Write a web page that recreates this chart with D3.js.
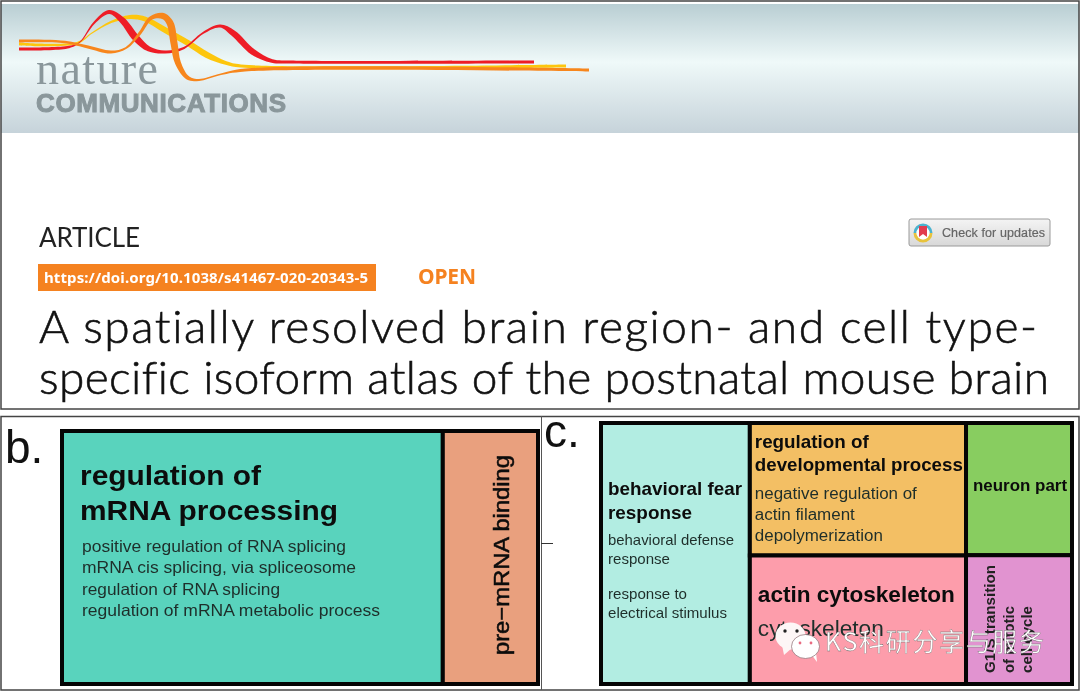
<!DOCTYPE html>
<html>
<head>
<meta charset="utf-8">
<script src="https://d3js.org/d3.v7.min.js"></script>
<style>
  html, body { margin: 0; padding: 0; background: #fff; }
  svg { display: block; filter: blur(0.4px); }
</style>
</head>
<body>
<div id="chart"></div>
<script>
// Treemap b: GO terms and their share of the box
const termsB = ["regulation of mRNA processing", "pre-mRNA binding"];
const valuesB = [80, 20];

// Treemap c: columns of GO terms
const termsC = [
  ["behavioral fear response"],
  ["regulation of developmental process", "actin cytoskeleton"],
  ["neuron part", "G1/S transition of mitotic cell cycle"]
];
const valuesC = [[31.6], [23.3, 22.6], [11.4, 11.1]];

const coloursB = ["#59d3bd", "#e9a07e"];
const coloursC = [["#b2ede2"], ["#f3bf64", "#fd9dab"], ["#88cd60", "#e193d0"]];

// Logo ribbons: x, y, thickness
const ribbonRed = [[19,49,3],[69,47,2.5],[80,42,1],[94,23,2],[109,12,4],[122,20,6],[136,38,7],[149,49,5],[165,52,3],[184,48,2],[203,33,2],[220,26,3],[233,33,6],[253,52,6],[272,61,3.5],[291,62,3],[534,62,3]];
const ribbonYellow = [[19,44,3],[77,43,2],[92,33,1],[111,22,2],[130,17,4],[145,19,5],[165,30,6],[188,43,6],[207,55,6],[226,63,3.5],[241,66,3],[566,66,3]];
const ribbonOrange = [[19,41,3],[65,42,2.5],[88,47,3],[111,52,3],[126,48,2],[140,33,3],[151,18,4],[163,16,6],[170,23,7],[174,43,7],[178,63,6],[188,78,4],[199,80,2],[218,75,1.5],[245,70,3],[589,70,3]];

const width = 1080;
const height = 691;
const sans = "'Liberation Sans', Arial, sans-serif";
const titleFont = "Lato, 'Noto Sans', sans-serif";

const svg = d3.select("#chart").append("svg")
  .attr("width", width)
  .attr("height", height)
  .attr("viewBox", [0, 0, width, height]);

const defs = svg.append("defs");

const headerGrad = defs.append("linearGradient")
  .attr("id", "header-grad")
  .attr("x1", 0).attr("y1", 0).attr("x2", 0).attr("y2", 1);
headerGrad.selectAll("stop")
  .data([[0, "#b9ced3"], [0.45, "#eff9f9"], [1, "#c6d3da"]])
  .join("stop")
  .attr("offset", d => d[0])
  .attr("stop-color", d => d[1]);

const badgeGrad = defs.append("linearGradient")
  .attr("id", "badge-grad")
  .attr("x1", 0).attr("y1", 0).attr("x2", 0).attr("y2", 1);
badgeGrad.selectAll("stop")
  .data([[0, "#f4f4f4"], [1, "#d8d8d8"]])
  .join("stop")
  .attr("offset", d => d[0])
  .attr("stop-color", d => d[1]);

const softBlur = defs.append("filter").attr("id", "soft");
softBlur.append("feGaussianBlur").attr("stdDeviation", 0.5);

// Article header
svg.append("rect")
  .attr("x", 1).attr("y", 4).attr("width", width - 2).attr("height", 129)
  .attr("fill", "url(#header-grad)");

// Ribbons get offset by half their thickness on each side
const edge = d3.line().curve(d3.curveCatmullRom.alpha(0.5));
function ribbonPath(pts) {
  const left = [], right = [];
  pts.forEach((p, i) => {
    const a = pts[Math.max(i - 1, 0)];
    const b = pts[Math.min(i + 1, pts.length - 1)];
    const len = Math.hypot(b[0] - a[0], b[1] - a[1]);
    const nx = -(b[1] - a[1]) / len, ny = (b[0] - a[0]) / len;
    left.push([p[0] + nx * p[2] / 2, p[1] + ny * p[2] / 2]);
    right.unshift([p[0] - nx * p[2] / 2, p[1] - ny * p[2] / 2]);
  });
  return edge(left) + "L" + edge(right).slice(1) + "Z";
}

const logo = svg.append("g").attr("filter", "url(#soft)");
logo.selectAll("path")
  .data([[ribbonYellow, "#fdc60f"], [ribbonRed, "#ee1c25"], [ribbonOrange, "#f7861e"]])
  .join("path")
  .attr("d", d => ribbonPath(d[0]))
  .attr("fill", d => d[1]);

svg.append("text")
  .attr("x", 36).attr("y", 84)
  .attr("font-family", "'Liberation Serif', serif")
  .attr("font-size", 46)
  .attr("textLength", 122)
  .attr("fill", "#8a979b")
  .text("nature");
svg.append("text")
  .attr("x", 36).attr("y", 112)
  .attr("font-family", sans)
  .attr("font-weight", "bold")
  .attr("font-size", 26)
  .attr("textLength", 250)
  .attr("stroke", "#8a979b")
  .attr("stroke-width", 1)
  .attr("fill", "#8a979b")
  .text("COMMUNICATIONS");

svg.append("text")
  .attr("x", 39).attr("y", 247)
  .attr("font-family", titleFont)
  .attr("font-size", 26)
  .attr("textLength", 101)
  .attr("fill", "#222")
  .text("ARTICLE");

svg.append("rect")
  .attr("x", 38).attr("y", 264).attr("width", 338).attr("height", 27)
  .attr("fill", "#f58220");
svg.append("text")
  .attr("x", 44).attr("y", 283)
  .attr("font-family", "'Noto Sans', sans-serif")
  .attr("font-weight", "bold")
  .attr("font-size", 15)
  .attr("textLength", 324)
  .attr("fill", "#fff")
  .text("https://doi.org/10.1038/s41467-020-20343-5");
svg.append("text")
  .attr("x", 418).attr("y", 284)
  .attr("font-family", "'Noto Sans', sans-serif")
  .attr("font-weight", "bold")
  .attr("font-size", 21)
  .attr("textLength", 58)
  .attr("fill", "#f58220")
  .text("OPEN");

svg.selectAll("text.headline")
  .data([
    ["A spatially resolved brain region- and cell type-", 343, 998],
    ["specific isoform atlas of the postnatal mouse brain", 394, 1010]
  ])
  .join("text")
  .attr("class", "headline")
  .attr("x", 39)
  .attr("y", d => d[1])
  .attr("font-family", titleFont)
  .attr("font-size", 46)
  .attr("font-weight", 300)
  .attr("textLength", d => d[2])
  .attr("lengthAdjust", "spacing")
  .style("font-variant-ligatures", "none")
  .attr("stroke", "#111")
  .attr("stroke-width", 0.6)
  .attr("fill", "#111")
  .text(d => d[0]);

// Check for updates badge
svg.append("rect")
  .attr("x", 909).attr("y", 219).attr("width", 141).attr("height", 27).attr("rx", 2)
  .attr("fill", "url(#badge-grad)")
  .attr("stroke", "#9a9a9a");
const ringArc = d3.arc().innerRadius(6.5).outerRadius(9.5);
svg.selectAll("path.ring")
  .data([[-Math.PI / 2, Math.PI / 2, "#4ab3cf"], [Math.PI / 2, Math.PI * 1.5, "#e8c33c"]])
  .join("path")
  .attr("class", "ring")
  .attr("transform", "translate(923,233)")
  .attr("d", d => ringArc({ startAngle: d[0], endAngle: d[1] }))
  .attr("fill", d => d[2]);
svg.append("circle")
  .attr("cx", 923).attr("cy", 233).attr("r", 6.5)
  .attr("fill", "#fff");
svg.append("path")
  .attr("d", "M919,226h8v11l-4,-3l-4,3z")
  .attr("fill", "#e23b4e");
svg.append("text")
  .attr("x", 942).attr("y", 237)
  .attr("font-family", sans)
  .attr("font-size", 12.5)
  .attr("textLength", 103)
  .attr("stroke", "#666")
  .attr("stroke-width", 0.2)
  .attr("fill", "#666")
  .text("Check for updates");

// Panel frames
svg.append("rect")
  .attr("x", 1).attr("y", 1).attr("width", width - 2).attr("height", 408)
  .attr("fill", "none").attr("stroke", "#444").attr("stroke-width", 1.5);
svg.append("rect")
  .attr("x", 1).attr("y", 416.5).attr("width", width - 2).attr("height", 273.5)
  .attr("fill", "none").attr("stroke", "#444").attr("stroke-width", 1.5);
svg.append("line")
  .attr("x1", 541.5).attr("x2", 541.5).attr("y1", 416).attr("y2", 690)
  .attr("stroke", "#555");
svg.append("line")
  .attr("x1", 541).attr("x2", 553).attr("y1", 543.5).attr("y2", 543.5)
  .attr("stroke", "#333");

svg.selectAll("text.panel")
  .data([["b.", 5, 463], ["c.", 544, 447]])
  .join("text")
  .attr("class", "panel")
  .attr("x", d => d[1])
  .attr("y", d => d[2])
  .attr("font-family", sans)
  .attr("font-size", 46)
  .attr("fill", "#111")
  .text(d => d[0]);

// Columns are split left to right, terms inside a column top to bottom
function tile(node, x0, y0, x1, y1) {
  (node.depth === 0 ? d3.treemapDice : d3.treemapSlice)(node, x0, y0, x1, y1);
}

function drawTreemap(rootData, x0, y0, x1, y1) {
  const root = d3.hierarchy(rootData).sum(d => d.value || 0);
  d3.treemap().tile(tile).size([x1 - x0, y1 - y0])(root);
  const g = svg.append("g").attr("transform", `translate(${x0},${y0})`);
  g.selectAll("rect")
    .data(root.leaves())
    .join("rect")
    .attr("x", d => d.x0)
    .attr("y", d => d.y0)
    .attr("width", d => d.x1 - d.x0)
    .attr("height", d => d.y1 - d.y0)
    .attr("fill", d => d.data.colour)
    .attr("stroke", "#050505")
    .attr("stroke-width", 4);
  return new Map(root.leaves().map(d => [d.data.name, [x0 + d.x0, y0 + d.y0]]));
}

const cellsB = drawTreemap({
  children: termsB.map((name, i) => ({ children: [{ name, value: valuesB[i], colour: coloursB[i] }] }))
}, 62, 431, 538, 684);

const cellsC = drawTreemap({
  children: termsC.map((col, i) => ({
    children: col.map((name, j) => ({ name, value: valuesC[i][j], colour: coloursC[i][j] }))
  }))
}, 601, 423, 1072, 684);

// Cell labels: [term, text, dx, dy, size, bold, width]
const labelsB = [
  [termsB[0], "regulation of", 18, 54, 27.5, true, 181],
  [termsB[0], "mRNA processing", 18, 89, 27.5, true, 258],
  [termsB[0], "positive regulation of RNA splicing", 20, 121, 16.5, false, 264],
  [termsB[0], "mRNA cis splicing, via spliceosome", 20, 142, 16.5, false, 274],
  [termsB[0], "regulation of RNA splicing", 20, 164, 16.5, false, 198],
  [termsB[0], "regulation of mRNA metabolic process", 20, 185, 16.5, false, 298]
];
const labelsC = [
  [termsC[0][0], "behavioral fear", 7, 72, 18.5, true, 134],
  [termsC[0][0], "response", 7, 96, 18.5, true, 84],
  [termsC[0][0], "behavioral defense", 7, 122, 14.3, false, 126],
  [termsC[0][0], "response", 7, 141, 14.3, false, 62],
  [termsC[0][0], "response to", 7, 176, 14.3, false, 79],
  [termsC[0][0], "electrical stimulus", 7, 195, 14.3, false, 119],
  [termsC[1][0], "regulation of", 5, 25, 18.5, true, 114],
  [termsC[1][0], "developmental process", 5, 48, 18.5, true, 208],
  [termsC[1][0], "negative regulation of", 5, 76, 16, false, 162],
  [termsC[1][0], "actin filament", 5, 97, 16, false, 100],
  [termsC[1][0], "depolymerization", 5, 118, 16, false, 128],
  [termsC[1][1], "actin cytoskeleton", 8, 47, 22.5, true, 197],
  [termsC[1][1], "cytoskeleton", 8, 81, 22.5, false, 126],
  [termsC[2][0], "neuron part", 7, 68, 16.5, true, 94]
];

function drawLabels(labels, cells) {
  svg.append("g").selectAll("text")
    .data(labels)
    .join("text")
    .attr("x", d => cells.get(d[0])[0] + d[2])
    .attr("y", d => cells.get(d[0])[1] + d[3])
    .attr("font-family", sans)
    .attr("font-size", d => d[4])
    .attr("font-weight", d => d[5] ? "bold" : "normal")
    .attr("textLength", d => d[6])
    .attr("lengthAdjust", "spacingAndGlyphs")
    .attr("fill", d => d[5] ? "#0c0c0c" : "#1e2e2a")
    .text(d => d[1]);
}
drawLabels(labelsB, cellsB);
drawLabels(labelsC, cellsC);

// Rotated labels in the narrow cells
svg.append("text")
  .attr("transform", "translate(509,655) rotate(-90)")
  .attr("font-family", sans)
  .attr("font-size", 21.5)
  .attr("stroke", "#0c0c0c")
  .attr("stroke-width", 0.5)
  .attr("textLength", 200)
  .attr("lengthAdjust", "spacingAndGlyphs")
  .attr("fill", "#0c0c0c")
  .text("pre\u2212mRNA binding");

svg.selectAll("text.rotated")
  .data([["G1/S transition", 995, 108], ["of mitotic", 1014, 67], ["cell cycle", 1032, 67]])
  .join("text")
  .attr("class", "rotated")
  .attr("transform", d => `translate(${d[1]},673) rotate(-90)`)
  .attr("font-family", sans)
  .attr("font-size", 15)
  .attr("font-weight", "bold")
  .attr("textLength", d => d[2])
  .attr("lengthAdjust", "spacingAndGlyphs")
  .attr("fill", "#222")
  .text(d => d[0]);

// WeChat watermark
const mark = svg.append("g");
mark.append("path")
  .attr("d", "M782,645l2,10l8,-7z")
  .attr("fill", "#fdf6f6");
mark.append("ellipse")
  .attr("cx", 790.5).attr("cy", 636).attr("rx", 15).attr("ry", 13.5)
  .attr("fill", "#fdf6f6");
mark.append("path")
  .attr("d", "M811,654l6,8l-1,-10z")
  .attr("fill", "#fff");
mark.append("ellipse")
  .attr("cx", 805.5).attr("cy", 646.5).attr("rx", 14).attr("ry", 12)
  .attr("fill", "#fff").attr("stroke", "#8a6a70").attr("stroke-width", 0.7);
mark.selectAll("circle")
  .data([[785, 631, 1.7], [797, 631, 1.7], [800, 643, 1.4], [811, 643, 1.4]])
  .join("circle")
  .attr("cx", d => d[0]).attr("cy", d => d[1]).attr("r", d => d[2])
  .attr("fill", (d, i) => i < 2 ? "#222" : "#e86a80");
svg.append("text")
  .attr("x", 825).attr("y", 651)
  .attr("font-family", "'Noto Sans CJK SC', sans-serif")
  .attr("font-size", 25)
  .attr("textLength", 219)
  .attr("fill", "#fff")
  .attr("stroke", "#666")
  .attr("stroke-width", 0.3)
  .text("KS科研分享与服务");
</script>
</body>
</html>
